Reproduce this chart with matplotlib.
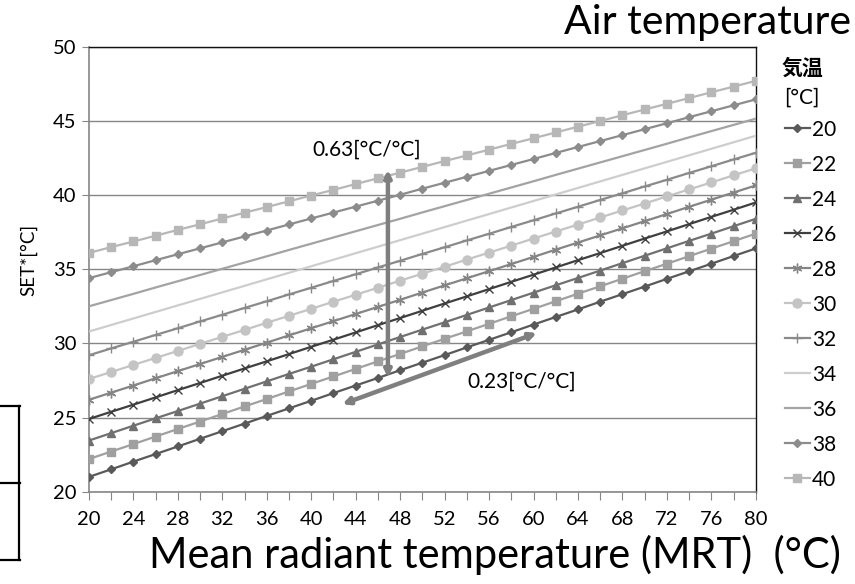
import matplotlib
matplotlib.use("Agg")
import matplotlib.pyplot as plt
from matplotlib.lines import Line2D

plt.rcParams['font.family'] = ['Lato', 'Noto Sans CJK JP', 'DejaVu Sans']

# Mean radiant temperature (x axis)
mrt = list(range(20, 82, 2))

# SET* for each air temperature series
set_20 = [21.0, 21.51, 22.03, 22.54, 23.05, 23.57, 24.08, 24.59, 25.11, 25.62, 26.13, 26.65, 27.16, 27.67, 28.19, 28.7,
          29.21, 29.73, 30.24, 30.75, 31.27, 31.78, 32.29, 32.81, 33.32, 33.83, 34.35, 34.86, 35.37, 35.89, 36.4]
set_22 = [22.2, 22.71, 23.21, 23.72, 24.23, 24.73, 25.24, 25.75, 26.25, 26.76, 27.27, 27.77, 28.28, 28.79, 29.29, 29.8,
          30.31, 30.81, 31.32, 31.83, 32.33, 32.84, 33.35, 33.85, 34.36, 34.87, 35.37, 35.88, 36.39, 36.89, 37.4]
set_24 = [23.45, 23.95, 24.45, 24.95, 25.44, 25.94, 26.44, 26.94, 27.44, 27.94, 28.43, 28.93, 29.43, 29.93, 30.43, 30.93,
          31.42, 31.92, 32.42, 32.92, 33.42, 33.92, 34.41, 34.91, 35.41, 35.91, 36.41, 36.91, 37.4, 37.9, 38.4]
set_26 = [24.9, 25.39, 25.87, 26.36, 26.85, 27.33, 27.82, 28.31, 28.79, 29.28, 29.77, 30.25, 30.74, 31.23, 31.71, 32.2,
          32.69, 33.17, 33.66, 34.15, 34.63, 35.12, 35.61, 36.09, 36.58, 37.07, 37.55, 38.04, 38.53, 39.01, 39.5]
set_28 = [26.2, 26.68, 27.16, 27.65, 28.13, 28.61, 29.09, 29.57, 30.05, 30.54, 31.02, 31.5, 31.98, 32.46, 32.94, 33.43,
          33.91, 34.39, 34.87, 35.35, 35.83, 36.32, 36.8, 37.28, 37.76, 38.24, 38.72, 39.21, 39.69, 40.17, 40.65]
set_30 = [27.6, 28.07, 28.55, 29.02, 29.49, 29.97, 30.44, 30.91, 31.39, 31.86, 32.33, 32.81, 33.28, 33.75, 34.23, 34.7,
          35.17, 35.65, 36.12, 36.59, 37.07, 37.54, 38.01, 38.49, 38.96, 39.43, 39.91, 40.38, 40.85, 41.33, 41.8]
set_32 = [29.2, 29.66, 30.11, 30.57, 31.02, 31.48, 31.93, 32.39, 32.84, 33.3, 33.75, 34.21, 34.66, 35.12, 35.57, 36.03,
          36.48, 36.94, 37.39, 37.85, 38.3, 38.76, 39.21, 39.67, 40.12, 40.58, 41.03, 41.49, 41.94, 42.4, 42.85]
set_34 = [30.8, 31.24, 31.68, 32.12, 32.56, 33.0, 33.44, 33.88, 34.32, 34.76, 35.2, 35.64, 36.08, 36.52, 36.96, 37.4,
          37.84, 38.28, 38.72, 39.16, 39.6, 40.04, 40.48, 40.92, 41.36, 41.8, 42.24, 42.68, 43.12, 43.56, 44.0]
set_36 = [32.5, 32.92, 33.34, 33.77, 34.19, 34.61, 35.03, 35.45, 35.87, 36.3, 36.72, 37.14, 37.56, 37.98, 38.4, 38.83,
          39.25, 39.67, 40.09, 40.51, 40.93, 41.36, 41.78, 42.2, 42.62, 43.04, 43.46, 43.89, 44.31, 44.73, 45.15]
set_38 = [34.4, 34.8, 35.2, 35.61, 36.01, 36.41, 36.81, 37.21, 37.61, 38.02, 38.42, 38.82, 39.22, 39.62, 40.02, 40.43,
          40.83, 41.23, 41.63, 42.03, 42.43, 42.84, 43.24, 43.64, 44.04, 44.44, 44.84, 45.25, 45.65, 46.05, 46.45]
set_40 = [36.1, 36.49, 36.87, 37.26, 37.65, 38.03, 38.42, 38.81, 39.19, 39.58, 39.97, 40.35, 40.74, 41.13, 41.51, 41.9,
          42.29, 42.67, 43.06, 43.45, 43.83, 44.22, 44.61, 44.99, 45.38, 45.77, 46.15, 46.54, 46.93, 47.31, 47.7]

air_temps = ['20', '22', '24', '26', '28', '30', '32', '34', '36', '38', '40']
series = [set_20, set_22, set_24, set_26, set_28, set_30, set_32, set_34, set_36, set_38, set_40]

yticks = [20, 25, 30, 35, 40, 45, 50]

# grayscale line styles: (color, marker, markersize)
styles = [
    ('#595959', 'D', 4.2),
    ('#a0a0a0', 's', 5.8),
    ('#707070', '^', 5.8),
    ('#3f3f3f', 'x', 6.0),
    ('#858585', (6, 2, 0), 7.0),
    ('#c4c4c4', 'o', 6.5),
    ('#8a8a8a', '+', 7.0),
    ('#cdcdcd', None, 0),
    ('#a3a3a3', None, 0),
    ('#8c8c8c', 'D', 4.2),
    ('#b7b7b7', 's', 5.8),
]

fig = plt.figure(figsize=(8.55, 5.84), dpi=100)
ax = fig.add_axes([0.104, 0.158, 0.780, 0.762])

handles = []
for vals, (col, mk, ms) in zip(series, styles):
    ln, = ax.plot(mrt, vals, color=col, lw=1.6, marker=mk, markersize=ms,
                  markeredgecolor=col, markerfacecolor=col, markeredgewidth=1.0, zorder=3)
    handles.append(ln)

ax.set_xlim(20, 80)
ax.set_ylim(20, 50)
ax.set_xticks(mrt)
ax.set_xticklabels([str(v) if (v - 20) % 4 == 0 else '' for v in mrt], fontsize=14.5)
ax.set_yticks(yticks)
ax.set_yticklabels([str(v) for v in yticks], fontsize=14.5)
ax.tick_params(axis='x', direction='out', length=6, color='#868686', pad=8)
ax.tick_params(axis='y', direction='out', length=5, color='#868686', pad=4)

ax.grid(axis='y', color='#868686', lw=1.0, zorder=0)
ax.set_axisbelow(True)
for side in ('left', 'bottom'):
    ax.spines[side].set_color('#868686')
    ax.spines[side].set_linewidth(1.2)
for side in ('top', 'right'):
    ax.spines[side].set_color('#111111')
    ax.spines[side].set_linewidth(1.0)

ax.set_ylabel('SET*[°C]', fontsize=13.5)
ax.yaxis.set_label_coords(-0.078, 0.52)

# slope annotations
arrow_kw = dict(arrowstyle='<|-|>', color='#7f7f7f', lw=3.2, mutation_scale=10, shrinkA=0, shrinkB=0)
ax.annotate('', xy=(46.9, 41.7), xytext=(46.9, 27.7), arrowprops=arrow_kw, zorder=5)
ax.annotate('', xy=(60.3, 30.7), xytext=(42.8, 25.9), arrowprops=arrow_kw, zorder=5)
ax.text(45.0, 43.05, '0.63[°C/°C]', fontsize=15, ha='center', va='center', zorder=6)
ax.text(58.95, 27.45, '0.23[°C/°C]', fontsize=15, ha='center', va='center', zorder=6)

# titles
fig.text(0.996, 0.962, 'Air temperature', fontsize=29.5, ha='right', va='center')
fig.text(0.984, 0.050, 'Mean radiant temperature (MRT)  (°C)', fontsize=30, ha='right', va='center')

# legend
fig.text(0.939, 0.884, '気温', fontsize=15, fontweight='bold', ha='center', va='center',
         family=['Noto Sans CJK JP', 'DejaVu Sans'])
fig.text(0.938, 0.832, '[°C]', fontsize=15, ha='center', va='center')
fig.legend(handles, air_temps, loc='upper left', bbox_to_anchor=(0.918, 0.795),
           frameon=False, fontsize=15, handlelength=1.2, handletextpad=0.1,
           labelspacing=0.72, borderaxespad=0, borderpad=0)

# table border fragments at the left edge
for y0 in (406, 483, 560):
    fig.add_artist(Line2D([0, 20 / 855], [1 - y0 / 584] * 2, transform=fig.transFigure,
                          color='black', lw=1.6))
fig.add_artist(Line2D([19 / 855] * 2, [1 - 406 / 584, 1 - 560 / 584], transform=fig.transFigure,
                      color='black', lw=1.6))

fig.savefig('out.png', dpi=100)
